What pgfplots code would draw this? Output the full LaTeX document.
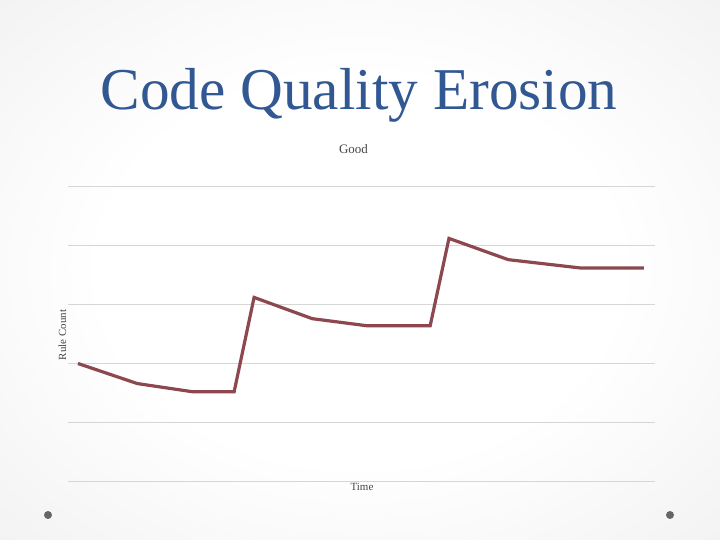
\documentclass[border=0pt]{standalone}
\usepackage{pgfplots}
\pgfplotsset{compat=1.18}
\usepackage{fontspec}
\setmainfont{Liberation Serif}
\definecolor{titleblue}{RGB}{49,88,146}
\definecolor{linec}{RGB}{140,72,78}
\definecolor{labelc}{RGB}{70,70,70}
\pgfdeclareradialshading{bgshade}{\pgfpoint{0bp}{0bp}}{color(0bp)=(white); color(18bp)=(white); color(40bp)=(black!6); color(60bp)=(black!12); color(75bp)=(black!16)}
\begin{document}
\begin{tikzpicture}
\shade[shading=bgshade] (0,0) rectangle (720bp,540bp);
% title
\node[anchor=base, text=titleblue, inner sep=0] at (359bp,430bp) {\fontsize{59.5}{60}\selectfont Code Quality Erosion};
% labels
\node[anchor=base, text=labelc, inner sep=0] at (353.5bp,386bp) {\fontsize{13}{14}\selectfont Good};
\node[anchor=base, text=labelc, inner sep=0] at (362bp,49bp) {\fontsize{11}{12}\selectfont Time};
\node[anchor=base, rotate=90, text=labelc, inner sep=0] at (66bp,205bp) {\fontsize{11}{12}\selectfont Rule Count};
% corner dots
\fill[black!60] (48bp,25bp) circle (4bp);
\fill[black!60] (670bp,25bp) circle (4bp);
\begin{axis}[
  at={(68bp,58.5bp)}, anchor=south west,
  scale only axis, width=587bp, height=295bp,
  xmin=0, xmax=10, ymin=0, ymax=5,
  axis line style={draw=none},
  xtick=\empty, ytick={0,1,2,3,4,5}, yticklabels={},
  major tick length=0pt,
  ymajorgrids, grid style={draw=black!16, line width=1bp},
  clip=false,
]
\addplot[color=linec, line width=3.2bp, line join=miter, mark=none] coordinates {
  (0.17,2.00) (1.18,1.66) (2.13,1.52) (2.83,1.52)
  (3.17,3.12) (4.16,2.76) (5.09,2.64) (6.17,2.64)
  (6.49,4.12) (7.50,3.76) (8.72,3.62) (9.81,3.62)
};
\end{axis}
\pgfresetboundingbox
\useasboundingbox (0,0) rectangle (720bp,540bp);
\end{tikzpicture}
\end{document}
